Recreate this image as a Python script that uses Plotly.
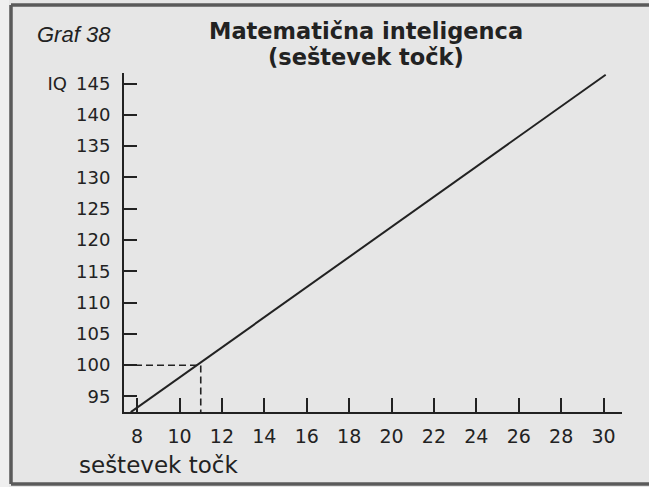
import plotly.graph_objects as go

# --- data ---
line_x = [7.7, 30.1]          # seštevek točk
line_y = [92.5, 146.4]        # IQ
marker_x = 11
marker_y = 100
x_ticks = [8, 10, 12, 14, 16, 18, 20, 22, 24, 26, 28, 30]
y_ticks = [95, 100, 105, 110, 115, 120, 125, 130, 135, 140, 145]
y_ticktext = [str(v) for v in y_ticks[:-1]] + ["IQ\u2002145"]
x_range = [7.38, 30.87]
y_range = [92.52, 146.68]

W, H = 649, 487
L, R, T, B = 124, 27, 73, 75
PW, PH = W - L - R, H - T - B

def px(xp):
    return (xp - L) / PW

def py(yp):
    return (H - B - yp) / PH

ink = "#222222"
frame = dict(color="#5a5a5a", width=3.5)

fig = go.Figure()
fig.add_trace(go.Scatter(
    x=[x_range[0], marker_x, marker_x], y=[marker_y, marker_y, y_range[0]],
    mode="lines", line=dict(color=ink, width=1.6, dash="7px,4px"),
    hoverinfo="skip", showlegend=False, cliponaxis=False))
fig.add_trace(go.Scatter(
    x=line_x, y=line_y, mode="lines",
    line=dict(color=ink, width=2), showlegend=False, cliponaxis=False))

fig.update_layout(
    width=W, height=H,
    margin=dict(l=L, r=R, t=T, b=B),
    paper_bgcolor="#e6e6e6",
    plot_bgcolor="rgba(0,0,0,0)",
    font=dict(family="DejaVu Sans", color=ink),
    xaxis=dict(range=x_range, tickvals=x_ticks, ticks="inside", ticklen=14,
               tickwidth=1.6, tickcolor=ink, showline=True, linecolor=ink,
               linewidth=2, showgrid=False, zeroline=False,
               tickfont=dict(size=19, family="DejaVu Sans", color=ink),
               ticklabelstandoff=6),
    yaxis=dict(range=y_range, tickvals=y_ticks, ticktext=y_ticktext,
               ticks="inside", ticklen=13, tickwidth=1.6, tickcolor=ink,
               showline=True, linecolor=ink, linewidth=2, showgrid=False,
               zeroline=False,
               tickfont=dict(size=18, family="DejaVu Sans", color=ink),
               ticklabelstandoff=8),
    shapes=[
        dict(type="rect", xref="paper", yref="paper",
             x0=px(0), x1=px(9), y0=py(H), y1=py(0),
             line=dict(width=0), fillcolor="#efefef", layer="below"),
        dict(type="line", xref="paper", yref="paper",
             x0=px(11), x1=px(11), y0=py(484), y1=py(5), line=frame, layer="below"),
        dict(type="line", xref="paper", yref="paper",
             x0=px(11), x1=px(W + 20), y0=py(5), y1=py(5), line=frame, layer="below"),
        dict(type="line", xref="paper", yref="paper",
             x0=px(11), x1=px(W + 20), y0=py(484), y1=py(484), line=frame, layer="below"),
    ],
    annotations=[
        dict(text="<b>Matematična inteligenca</b>", xref="paper", yref="paper",
             x=px(366), y=py(31), showarrow=False, xanchor="center",
             yanchor="middle", font=dict(size=22.5, family="DejaVu Sans", color=ink)),
        dict(text="<b>(seštevek točk)</b>", xref="paper", yref="paper",
             x=px(366), y=py(57), showarrow=False, xanchor="center",
             yanchor="middle", font=dict(size=22.5, family="DejaVu Sans", color=ink)),
        dict(text="<i>Graf 38</i>", xref="paper", yref="paper",
             x=px(35), y=py(34), showarrow=False, xanchor="left",
             yanchor="middle", font=dict(size=22, family="Liberation Sans", color=ink)),
        dict(text="seštevek točk", xref="paper", yref="paper",
             x=px(77), y=py(465), showarrow=False, xanchor="left",
             yanchor="middle", font=dict(size=23, family="DejaVu Sans", color=ink)),
    ],
)

fig.write_html("out.html", config={"displayModeBar": False},
               post_script="document.body.style.margin='0';document.body.style.overflow='hidden';")
